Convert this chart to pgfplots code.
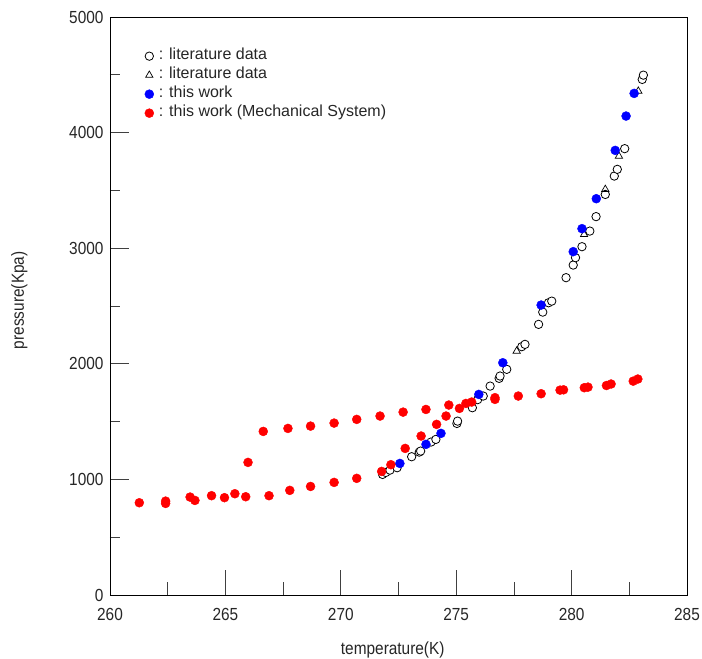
\documentclass[border=0pt]{standalone}
\usepackage{fontspec}
\setmainfont{Liberation Sans}
\newfontfamily\lblfont{Liberation Sans}[FakeStretch=0.88]
\usepackage{pgfplots}
\pgfplotsset{compat=1.18}

% literature data (circles)
\pgfplotstableread{
T P
271.81 1043
271.95 1060
272.13 1080
272.44 1101
273.07 1196
273.40 1236
273.46 1245
273.91 1323
274.12 1346
275.03 1484
275.06 1504
275.70 1620
275.93 1690
276.17 1721
276.47 1807
276.86 1874
276.90 1894
277.19 1952
277.84 2148
277.98 2168
278.57 2341
278.75 2447
279.00 2528
279.14 2542
279.76 2745
280.07 2854
280.17 2918
280.45 3013
280.79 3148
281.06 3273
281.46 3465
281.85 3624
281.98 3682
282.30 3861
283.06 4460
283.11 4497
}\litcirc

% literature data (triangles)
\pgfplotstableread{
T P
277.62 2110
280.54 3119
281.46 3509
282.05 3797
282.89 4359
}\littri

% this work
\pgfplotstableread{
T P
272.56 1138
273.69 1303
274.34 1398
275.98 1735
277.02 2009
278.68 2508
280.07 2970
280.45 3169
281.07 3428
281.89 3846
282.36 4143
282.71 4339
}\thiswork

% this work (mechanical system)
\pgfplotstableread{
T P
261.27 798
262.41 812
262.41 792
263.47 847
263.68 818
264.40 859
264.96 842
265.41 876
265.88 850
265.98 1147
266.64 1415
266.89 859
267.71 1441
267.79 905
268.69 1461
268.69 939
269.71 1487
269.71 974
270.69 1519
270.69 1009
271.70 1548
271.77 1069
272.17 1127
272.70 1582
272.79 1268
273.48 1375
273.69 1605
274.15 1476
274.56 1548
274.68 1643
275.14 1614
275.42 1657
275.67 1669
276.68 1692
276.68 1707
277.69 1721
278.68 1741
279.50 1772
279.65 1775
280.55 1793
280.71 1798
281.51 1812
281.71 1825
282.67 1850
282.87 1868
}\mech

\begin{document}
\begin{tikzpicture}
\fontsize{16bp}{19bp}\selectfont
\begin{axis}[
    name=ax,
    scale only axis,
    width=577bp, height=578bp,
    xmin=260, xmax=285, ymin=0, ymax=5000,
    xtick={260,265,...,285},
    ytick={0,1000,...,5000},
    minor x tick num=1,
    minor y tick num=1,
    tick align=inside,
    xtick pos=bottom, ytick pos=left,
    major tick length=19bp,
    minor tick length=10bp,
    xtick style={/pgfplots/major tick length=25bp, /pgfplots/minor tick length=13bp},
    tick style={draw=black!75, line width=0.7bp},
    axis line style={line width=0.8bp},
    scaled ticks=false,
    /pgf/number format/assume math mode=true,
    /pgf/number format/1000 sep={},
    ticklabel style={font=\lblfont\fontsize{17.5bp}{21bp}\selectfont, text=black!85},
    xticklabel style={yshift=-8bp},
    yticklabel style={xshift=-1bp},
    xlabel={temperature(K)},
    ylabel={pressure(Kpa)},
    label style={font=\lblfont\fontsize{17.5bp}{21bp}\selectfont, text=black!85},
    every axis x label/.append style={at={(axis description cs:0.49,-0.095)}, anchor=center},
    every axis y label/.append style={at={(axis description cs:-0.157,0.51)}, anchor=center},
    legend style={at={(axis description cs:0.06,0.949)}, anchor=north west, draw=none, fill=none,
        font=\fontsize{16bp}{19bp}\selectfont, row sep=0bp, inner sep=0pt,
        nodes={inner sep=0bp, text height=12.5bp, text depth=6.5bp, text=black!85}},
    legend cell align=left,
    legend image code/.code={\draw[#1] plot coordinates {(0bp,0bp)};},
]
\addplot[only marks, mark=*, mark size=4.2bp, draw=black, fill=white, line width=0.8bp] table[x=T,y=P] {\litcirc};
\addlegendentry{\hspace{5bp}: literature data}
\addplot[only marks, mark=triangle, mark size=4.2bp, draw=black, line width=0.7bp] table[x=T,y=P] {\littri};
\addlegendentry{\hspace{5bp}: literature data}
\addplot[only marks, mark=*, mark size=4.5bp, draw=blue, fill=blue] table[x=T,y=P] {\thiswork};
\addlegendentry{\hspace{5bp}: this work}
\addplot[only marks, mark=*, mark size=4.5bp, draw=red, fill=red] table[x=T,y=P] {\mech};
\addlegendentry{\hspace{5bp}: this work (Mechanical System)}
\end{axis}
\pgfresetboundingbox
\path[use as bounding box] ([shift={(-110bp,-64bp)}]ax.south west) rectangle ([shift={(15bp,17bp)}]ax.north east);
\end{tikzpicture}
\end{document}
